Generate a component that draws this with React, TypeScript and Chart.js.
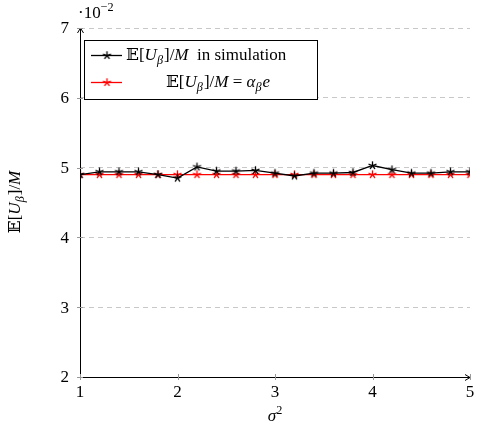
import React, { useEffect, useRef } from "react";
import { Chart, registerables } from "chart.js";

Chart.register(...registerables);

const sigma2 = [1, 1.2, 1.4, 1.6, 1.8, 2, 2.2, 2.4, 2.6, 2.8, 3, 3.2, 3.4, 3.6, 3.8, 4, 4.2, 4.4, 4.6, 4.8, 5];
const simValues = [4.9, 4.94, 4.94, 4.94, 4.9, 4.85, 5.01, 4.95, 4.95, 4.96, 4.92, 4.88, 4.92, 4.92, 4.93, 5.03, 4.97, 4.92, 4.92, 4.94, 4.94];
const theoryValues = [4.9, 4.9, 4.9, 4.9, 4.9, 4.9, 4.9, 4.9, 4.9, 4.9, 4.9, 4.9, 4.9, 4.9, 4.9, 4.9, 4.9, 4.9, 4.9, 4.9, 4.9];
const xTicks = [1, 2, 3, 4, 5];
const yTicks = [2, 3, 4, 5, 6, 7];
const seriesNames = ["in simulation", "= α"];

const FONT = "'Liberation Serif', 'DejaVu Serif', 'DejaVu Sans', serif";
const FS = 17;

type Seg = { t: string; i?: boolean; sub?: boolean; sup?: boolean };

function segWidth(ctx: CanvasRenderingContext2D, segs: Seg[], size: number) {
  let w = 0;
  for (const s of segs) {
    const sz = s.sub || s.sup ? size * 0.72 : size;
    ctx.font = `${s.i ? "italic " : ""}${sz}px ${FONT}`;
    w += ctx.measureText(s.t).width;
  }
  return w;
}

function drawRich(ctx: CanvasRenderingContext2D, x: number, y: number, segs: Seg[], size: number, align: "left" | "center" = "left") {
  let cx = x;
  if (align === "center") cx = x - segWidth(ctx, segs, size) / 2;
  ctx.textBaseline = "alphabetic";
  ctx.textAlign = "left";
  for (const s of segs) {
    const sz = s.sub || s.sup ? size * 0.72 : size;
    ctx.font = `${s.i ? "italic " : ""}${sz}px ${FONT}`;
    const dy = s.sub ? size * 0.25 : s.sup ? -size * 0.42 : 0;
    ctx.fillText(s.t, cx, y + dy);
    cx += ctx.measureText(s.t).width + (s.sub ? 1 : 0);
  }
}

const EU: Seg[] = [{ t: "𝔼[" }, { t: "U", i: true }, { t: "β", i: true, sub: true }, { t: "]/" }, { t: "M", i: true }];

function makeStar(color: string) {
  const c = document.createElement("canvas");
  const s = 11;
  c.width = s;
  c.height = s;
  const g = c.getContext("2d")!;
  g.strokeStyle = color;
  g.lineWidth = 1.3;
  const r = 4.2;
  for (let k = 0; k < 5; k++) {
    const a = -Math.PI / 2 + (k * 2 * Math.PI) / 5;
    g.beginPath();
    g.moveTo(s / 2, s / 2);
    g.lineTo(s / 2 + r * Math.cos(a), s / 2 + r * Math.sin(a));
    g.stroke();
  }
  return c;
}

export default function App() {
  const ref = useRef<HTMLCanvasElement | null>(null);
  useEffect(() => {
    if (!ref.current) return;
    const blackStar = makeStar("#000");
    const redStar = makeStar("#ff0000");

    const decor = {
      id: "decor",
      afterDraw(chart: any) {
        const ctx = chart.ctx as CanvasRenderingContext2D;
        const xs = chart.scales.x;
        const ys = chart.scales.y;
        const { left, right, top, bottom } = chart.chartArea;
        ctx.save();
        ctx.strokeStyle = "#000";
        ctx.fillStyle = "#000";
        ctx.lineWidth = 1;
        // axes
        ctx.beginPath();
        ctx.moveTo(left, bottom + 0.5);
        ctx.lineTo(right, bottom + 0.5);
        ctx.moveTo(left + 0.5, bottom);
        ctx.lineTo(left + 0.5, top);
        ctx.stroke();
        // arrows
        ctx.beginPath();
        ctx.moveTo(right - 5, bottom + 0.5 - 3);
        ctx.lineTo(right, bottom + 0.5);
        ctx.lineTo(right - 5, bottom + 0.5 + 3);
        ctx.moveTo(left + 0.5 - 3, top + 5);
        ctx.lineTo(left + 0.5, top);
        ctx.lineTo(left + 0.5 + 3, top + 5);
        ctx.stroke();
        // ticks
        ctx.strokeStyle = "#999";
        ctx.beginPath();
        for (const v of xTicks) {
          const px = Math.round(xs.getPixelForValue(v)) + 0.5;
          ctx.moveTo(px, bottom - 3);
          ctx.lineTo(px, bottom + 3);
        }
        for (const v of yTicks) {
          const py = Math.round(ys.getPixelForValue(v)) + 0.5;
          ctx.moveTo(left - 3, py);
          ctx.lineTo(left + 3, py);
        }
        ctx.stroke();
        // tick labels
        ctx.fillStyle = "#000";
        ctx.font = `${FS}px ${FONT}`;
        ctx.textAlign = "center";
        ctx.textBaseline = "top";
        for (const v of xTicks) {
          ctx.fillText(String(v), xs.getPixelForValue(v), bottom + 7);
        }
        ctx.textAlign = "right";
        ctx.textBaseline = "middle";
        for (const v of yTicks) {
          ctx.fillText(String(v), left - 11, ys.getPixelForValue(v) + 1);
        }
        // scale label
        drawRich(ctx, left - 2, 18, [{ t: "·10" }, { t: "−2", sup: true }], FS);
        // x title
        drawRich(ctx, (left + right) / 2, 421, [{ t: "σ", i: true }, { t: "2", sup: true }], FS, "center");
        // y title
        ctx.save();
        ctx.translate(20, (top + bottom) / 2);
        ctx.rotate(-Math.PI / 2);
        drawRich(ctx, 0, 0, EU, FS, "center");
        ctx.restore();
        // legend
        const lx = 84, ly = 40, lw = 233, lh = 59;
        ctx.fillStyle = "#fff";
        ctx.fillRect(lx, ly, lw, lh);
        ctx.strokeStyle = "#000";
        ctx.lineWidth = 1;
        ctx.strokeRect(lx + 0.5, ly + 0.5, lw, lh);
        const rows = [
          { color: "#000", star: blackStar, y: 55, segs: [...EU, { t: "  " + seriesNames[0] }], x: 126, align: "left" as const },
          { color: "#ff0000", star: redStar, y: 82, segs: [...EU, { t: " = " }, { t: "α", i: true }, { t: "β", i: true, sub: true }, { t: "e", i: true }], x: 217, align: "center" as const },
        ];
        for (const r of rows) {
          ctx.strokeStyle = r.color;
          ctx.lineWidth = 1.3;
          ctx.beginPath();
          ctx.moveTo(91, r.y + 0.5);
          ctx.lineTo(122, r.y + 0.5);
          ctx.stroke();
          ctx.drawImage(r.star, 107 - 5.5, r.y + 0.5 - 5.5);
          ctx.fillStyle = "#000";
          drawRich(ctx, r.x, r.y + 5, r.segs, FS, r.align);
        }
        ctx.restore();
      },
    };

    const chart = new Chart(ref.current, {
      type: "line",
      data: {
        datasets: [
          {
            label: seriesNames[0],
            data: sigma2.map((x, i) => ({ x, y: simValues[i] })),
            borderColor: "#000",
            borderWidth: 1.3,
            pointStyle: blackStar as any,
            pointRadius: 5,
          },
          {
            label: seriesNames[1],
            data: sigma2.map((x, i) => ({ x, y: theoryValues[i] })),
            borderColor: "#ff0000",
            borderWidth: 1.3,
            pointStyle: redStar as any,
            pointRadius: 5,
          },
        ],
      },
      options: {
        animation: false,
        responsive: false,
        layout: { padding: { top: 28, right: 7, left: 0, bottom: 0 } },
        plugins: { legend: { display: false }, tooltip: { enabled: false } },
        scales: {
          x: {
            type: "linear",
            min: 1,
            max: 5,
            grid: { display: false },
            border: { display: false },
            ticks: { display: false },
            afterFit: (s: any) => { s.height = 55; },
          },
          y: {
            min: 2,
            max: 7,
            ticks: { display: false, stepSize: 1 },
            border: { display: false, dash: [5, 4] },
            grid: {
              drawTicks: false,
              color: (c: any) => (c.tick && c.tick.value === 2 ? "rgba(0,0,0,0)" : "#c8c8c8"),
              lineWidth: 1,
            },
            afterFit: (s: any) => { s.width = 80; },
          } as any,
        },
      },
      plugins: [decor],
    });
    return () => chart.destroy();
  }, []);
  return (
    <div style={{ position: "fixed", left: 0, top: 0, width: 477, height: 432, background: "#fff" }}>
      <canvas ref={ref} width={477} height={432} style={{ display: "block" }} />
    </div>
  );
}
